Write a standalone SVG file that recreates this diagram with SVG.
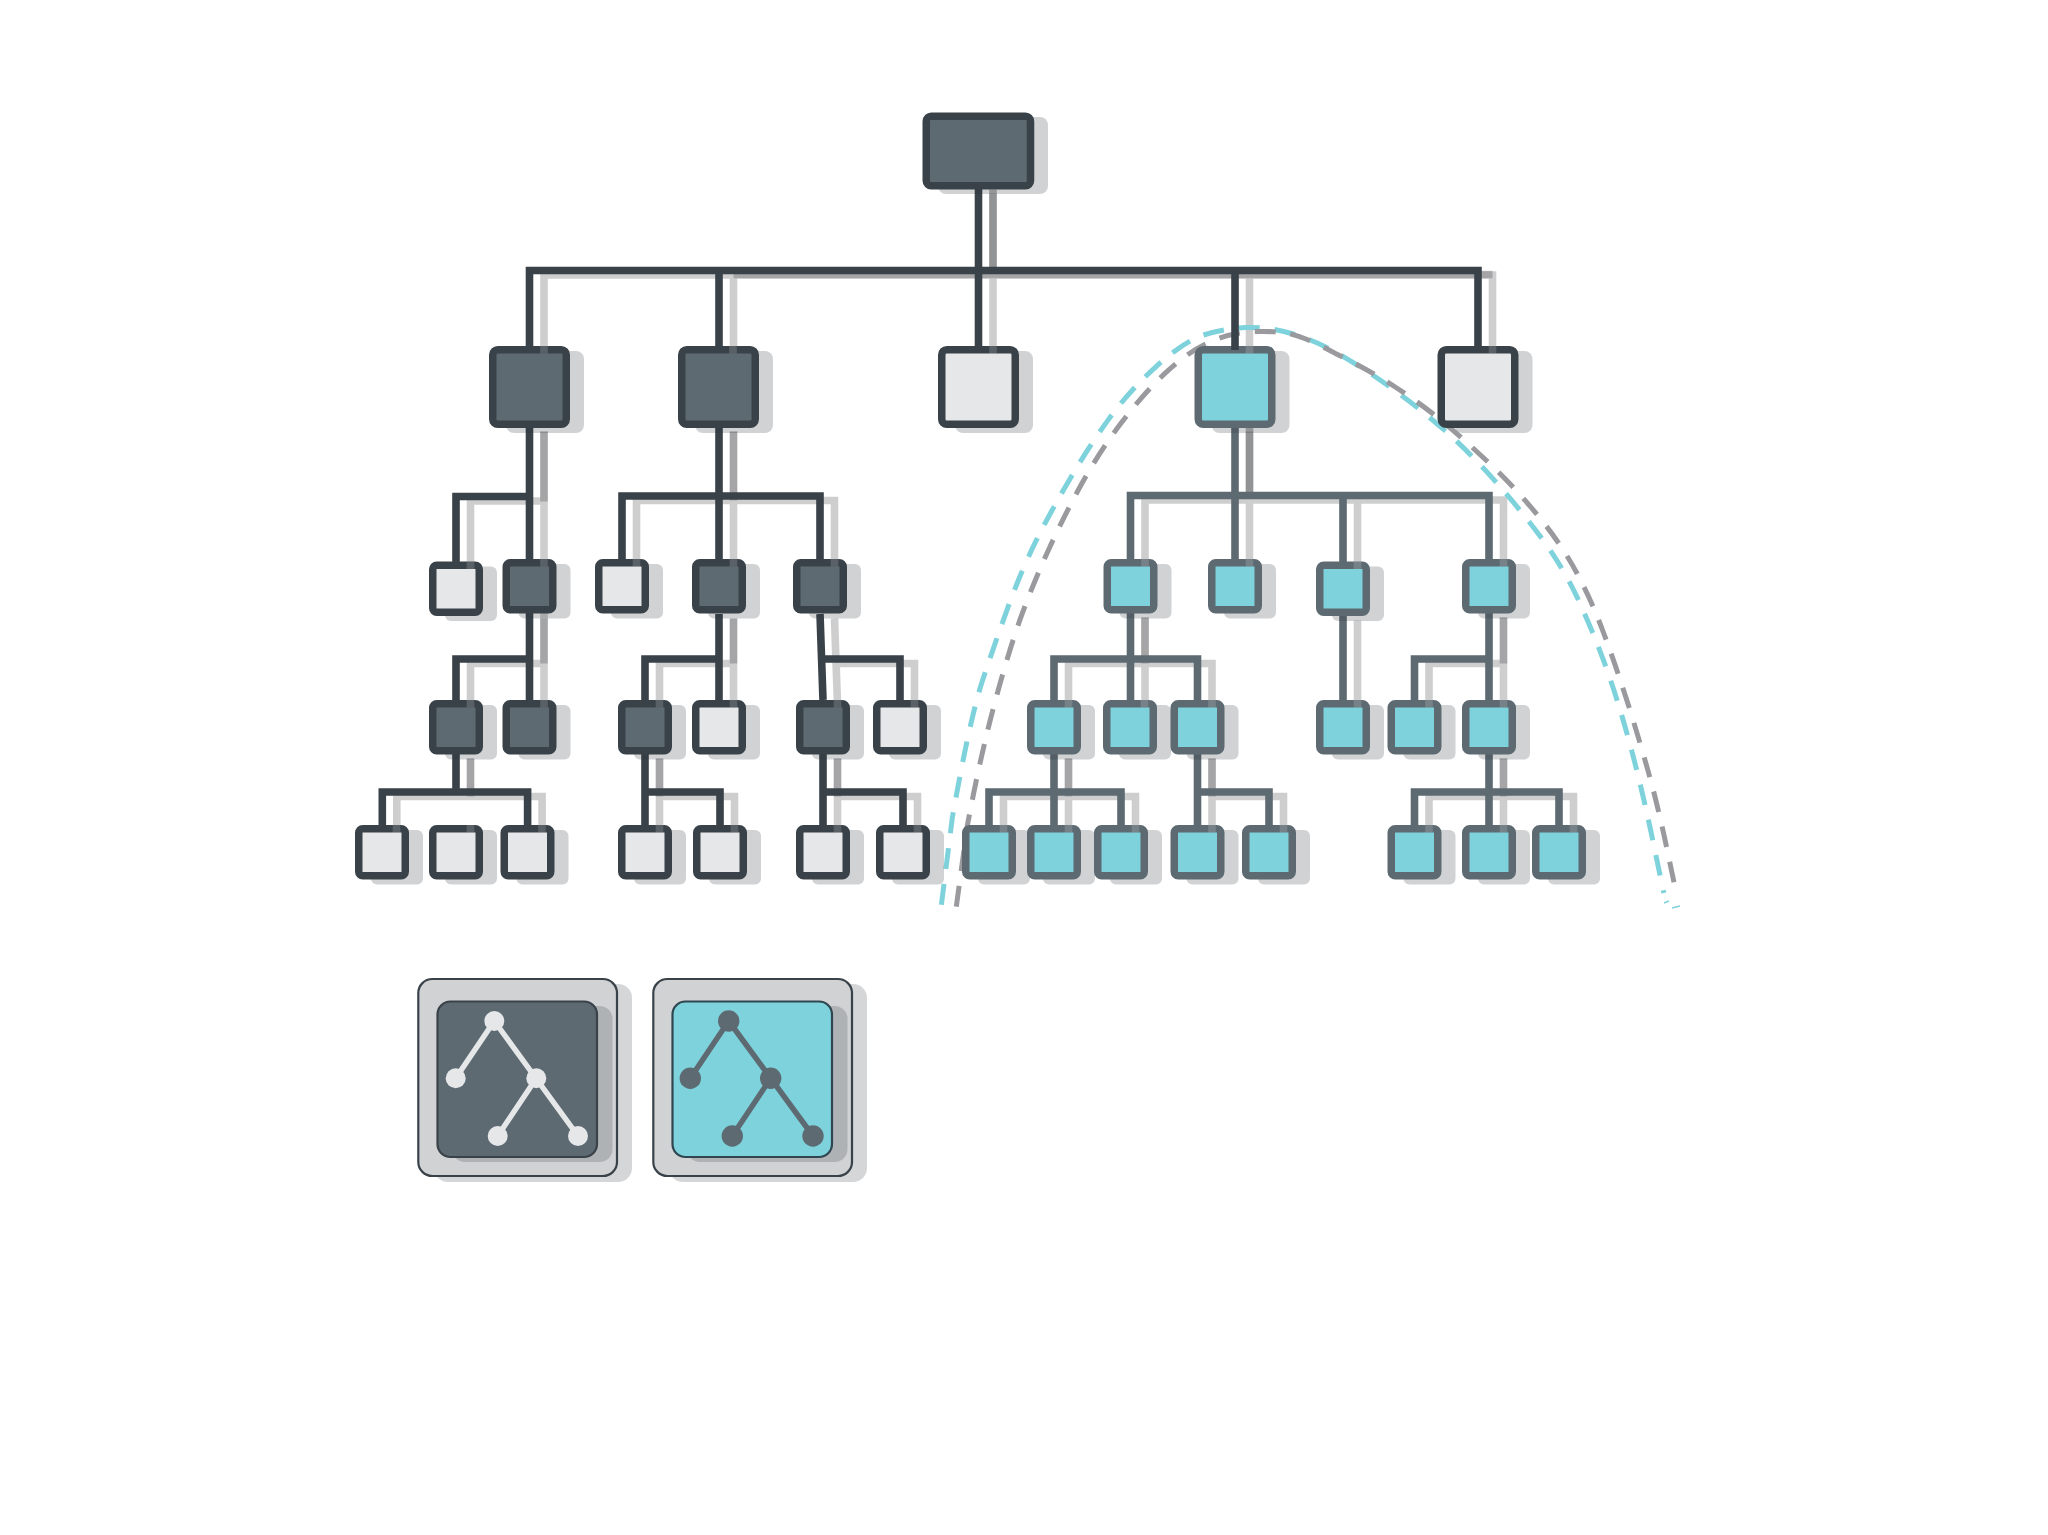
<svg xmlns="http://www.w3.org/2000/svg" xmlns:xlink="http://www.w3.org/1999/xlink" width="2048" height="1535" viewBox="0 0 2048 1535">
<style>
.dark{fill:#5e6a72;stroke:#3a4249}
.light{fill:#e5e7e9;stroke:#3a4249}
.teal{fill:#7dd2dc;stroke:#5e6a72}
.bd{stroke-width:7.5}
.sh{fill:#2a3238;fill-opacity:.22;stroke:none}
.tab{fill:#fff;fill-opacity:.16;stroke:none}
.e{fill:none;stroke-width:7.6;stroke-linejoin:miter}
.ed{stroke:#3a4249}
.et{stroke:#5e6a72}
.es{fill:none;stroke:#2a2c30;stroke-opacity:.23;stroke-width:7.6}
.tr{fill:none;stroke:#2a2c30;stroke-opacity:.25;stroke-width:7.6}
.tr2{fill:none;stroke:#2a2c30;stroke-opacity:.36;stroke-width:7.6}
.dash{fill:none;stroke-width:5;stroke-dasharray:21 15}
.frame{fill:#d0d2d4;stroke:#3a4249;stroke-width:2.2}
.fsh{fill:#2a3238;fill-opacity:.2;stroke:none}
</style>
<defs>
<g id="small"><rect class="sh" x="16" y="5" width="52" height="54.5" rx="6"/><rect class="bd" x="3.75" y="3.75" width="46.5" height="47" rx="4"/><rect class="tab" x="23.2" y="0" width="7.6" height="7.5" transform="translate(14.5 0)"/></g>
<g id="big"><rect class="sh" x="17" y="5" width="78" height="82" rx="8"/><rect class="bd" x="3.75" y="3.75" width="73.5" height="74.5" rx="5"/><rect class="tab" x="36.7" y="0" width="7.6" height="7.5" transform="translate(14.5 0)"/></g>
<path id="edges-dark" d="M978.5 189V270.5M529.5 346V270.5H1478V346M719 270.5V346M978.5 270.5V346M1235 270.5V346M529.5 427V700M529.5 496.5H456V562M719 427V560M622 560V496H820V560M529.5 614V700M529.5 659H456V700M456 754V792M382.3 825V792H527.6V825M719 614V700M719 659H645V700M645 754V825M645 792H720V825M820 614L823 700M820 659H900V700M823 754V825M823 792H903V825"/>
<path id="edges-teal" d="M1235 427V560M1130.5 560V495.5H1489V560M1343 495.5V562M1130.5 613V700M1054 700V659H1197.5V700M1343 616V700M1489 613V700M1414.5 700V659H1489M1054 754V825M989 825V792H1121V825M1197.5 754V825M1197.5 792H1269V825M1489 754V825M1414.5 825V792H1559V825"/>
</defs>
<rect width="2048" height="1535" fill="#fff"/>
<g id="connector-shadows" transform="translate(14.5 4.5)">
<use href="#edges-dark" xlink:href="#edges-dark" class="es"/>
<use href="#edges-teal" xlink:href="#edges-teal" class="es"/>
<path class="tr2" d="M978.5 185V266M1235 423V491"/>
<path class="tr" d="M719 270H1478M529.5 427V497M719 427V496M1130.5 613V659M1489 613V659M529.5 614V659M719 614V659M456 754V792M645 754V792M823 754V792M1054 754V792M1197.5 754V792M1489 754V792"/>
</g>
<g id="dashed-curves">
<path class="dash" stroke="#7dd2dc" d="M941.4 904.7L952.3 817.8Q969.8 719 982.2 681.5Q994.6 643.9 1008.3 606.4Q1022 568.8 1036.9 539.2Q1051.8 509.5 1070.5 477.9Q1089.2 446.2 1109.1 418.6Q1129 391 1156.4 366.3Q1183.7 341.5 1203.6 335Q1223.5 328.5 1245.9 327.5Q1268.3 326.5 1293.2 334Q1318 341.5 1342.9 356.3Q1367.8 371 1392.7 388.9Q1417.5 406.7 1442.4 428.4Q1467.3 450 1492.2 477.8Q1517 505.5 1539.4 535.2Q1561.8 564.8 1576.7 596.4Q1591.6 628 1604 661.7Q1616.5 695.3 1629 740.7Q1641.4 786 1652.6 839.5L1663.8 893"/>
<path class="dash" stroke="#9a9a9e" d="M956.3 906.7L967.3 825.7Q980.7 754.5 995.2 701.2Q1009.6 647.8 1022 614.2Q1034.4 580.6 1049.4 548Q1064.3 515.4 1081.7 483.8Q1099.1 452.2 1121.5 422.6Q1143.9 392.9 1166.3 372.2Q1188.7 351.4 1208.6 342.5Q1228.5 333.6 1248.4 332Q1268.3 330.4 1285.7 333Q1303 335.5 1335.4 353.4Q1367.8 369.2 1395.2 387Q1422.5 404.7 1444.9 423.5Q1467.3 442.3 1492.2 466Q1517 489.7 1539.4 517.4Q1561.8 545 1576.7 572.7Q1591.6 600.4 1604 634Q1616.5 667.6 1629 707.1Q1641.4 746.6 1650.1 778.3Q1658.8 809.9 1667.5 851.4L1676.2 892.9"/>
<path d="M1664 903L1669 901M1672 908L1680 906" stroke="#7dd2dc" stroke-width="1.5" fill="none"/>
</g>
<g id="connectors">
<use href="#edges-dark" xlink:href="#edges-dark" class="e ed"/>
<use href="#edges-teal" xlink:href="#edges-teal" class="e et"/>
</g>
<g id="root"><rect class="sh" x="938" y="117" width="110" height="77" rx="8"/><rect class="dark bd" x="926.25" y="116.25" width="104.25" height="69.5" rx="5"/></g>
<g id="a1" class="dark" transform="translate(489 346)"><use href="#big" xlink:href="#big"/></g>
<g id="a2" class="dark" transform="translate(678 346)"><use href="#big" xlink:href="#big"/></g>
<g id="a3" class="light" transform="translate(938 346)"><use href="#big" xlink:href="#big"/></g>
<g id="a4" class="teal" transform="translate(1194.5 346)"><use href="#big" xlink:href="#big"/><path d="M40.5 0V4" stroke="#3a4249" stroke-width="7.6" fill="none"/></g>
<g id="a5" class="light" transform="translate(1437.5 346)"><use href="#big" xlink:href="#big"/></g>
<g id="b1" class="light" transform="translate(429 561.5)"><use href="#small" xlink:href="#small"/></g>
<g id="b2" class="dark" transform="translate(502.5 559)"><use href="#small" xlink:href="#small"/></g>
<g id="b3" class="light" transform="translate(595 559)"><use href="#small" xlink:href="#small"/></g>
<g id="b4" class="dark" transform="translate(692 559)"><use href="#small" xlink:href="#small"/></g>
<g id="b5" class="dark" transform="translate(793 559)"><use href="#small" xlink:href="#small"/></g>
<g id="b6" class="teal" transform="translate(1103.5 559)"><use href="#small" xlink:href="#small"/></g>
<g id="b7" class="teal" transform="translate(1208 559)"><use href="#small" xlink:href="#small"/></g>
<g id="b8" class="teal" transform="translate(1316 561.5)"><use href="#small" xlink:href="#small"/></g>
<g id="b9" class="teal" transform="translate(1462 559)"><use href="#small" xlink:href="#small"/></g>
<g id="c1" class="dark" transform="translate(429 700)"><use href="#small" xlink:href="#small"/></g>
<g id="c2" class="dark" transform="translate(502.5 700)"><use href="#small" xlink:href="#small"/></g>
<g id="c3" class="dark" transform="translate(618 700)"><use href="#small" xlink:href="#small"/></g>
<g id="c4" class="light" transform="translate(692 700)"><use href="#small" xlink:href="#small"/></g>
<g id="c5" class="dark" transform="translate(796 700)"><use href="#small" xlink:href="#small"/></g>
<g id="c6" class="light" transform="translate(873 700)"><use href="#small" xlink:href="#small"/></g>
<g id="c7" class="teal" transform="translate(1027 700)"><use href="#small" xlink:href="#small"/></g>
<g id="c8" class="teal" transform="translate(1103 700)"><use href="#small" xlink:href="#small"/></g>
<g id="c9" class="teal" transform="translate(1170.5 700)"><use href="#small" xlink:href="#small"/></g>
<g id="c10" class="teal" transform="translate(1316 700)"><use href="#small" xlink:href="#small"/></g>
<g id="c11" class="teal" transform="translate(1387.5 700)"><use href="#small" xlink:href="#small"/></g>
<g id="c12" class="teal" transform="translate(1462 700)"><use href="#small" xlink:href="#small"/></g>
<g id="d1" class="light" transform="translate(355 825)"><use href="#small" xlink:href="#small"/></g>
<g id="d2" class="light" transform="translate(429 825)"><use href="#small" xlink:href="#small"/></g>
<g id="d3" class="light" transform="translate(500.5 825)"><use href="#small" xlink:href="#small"/></g>
<g id="d4" class="light" transform="translate(618 825)"><use href="#small" xlink:href="#small"/></g>
<g id="d5" class="light" transform="translate(693 825)"><use href="#small" xlink:href="#small"/></g>
<g id="d6" class="light" transform="translate(796 825)"><use href="#small" xlink:href="#small"/></g>
<g id="d7" class="light" transform="translate(876 825)"><use href="#small" xlink:href="#small"/></g>
<g id="d8" class="teal" transform="translate(962 825)"><use href="#small" xlink:href="#small"/></g>
<g id="d9" class="teal" transform="translate(1027 825)"><use href="#small" xlink:href="#small"/></g>
<g id="d10" class="teal" transform="translate(1094 825)"><use href="#small" xlink:href="#small"/></g>
<g id="d11" class="teal" transform="translate(1170.5 825)"><use href="#small" xlink:href="#small"/></g>
<g id="d12" class="teal" transform="translate(1242 825)"><use href="#small" xlink:href="#small"/></g>
<g id="d13" class="teal" transform="translate(1387.5 825)"><use href="#small" xlink:href="#small"/></g>
<g id="d14" class="teal" transform="translate(1462 825)"><use href="#small" xlink:href="#small"/></g>
<g id="d15" class="teal" transform="translate(1532 825)"><use href="#small" xlink:href="#small"/></g>
<g id="legend-dark">
<rect class="fsh" x="434" y="984" width="198" height="198" rx="14"/>
<rect class="frame" x="418.3" y="979" width="198.7" height="197" rx="14"/>
<rect class="fsh" x="452" y="1006" width="160.5" height="156" rx="13"/>
<rect x="437.5" y="1001.5" width="159.5" height="155.5" rx="13" fill="#5e6a72" stroke="#3a4249" stroke-width="2.2"/>
<path d="M494.3 1021L455.7 1078.3M494.3 1021L578 1136M536.3 1078.3L497.7 1136" fill="none" stroke="#e5e7e9" stroke-width="5.5"/>
<g fill="#e5e7e9"><circle cx="494.3" cy="1021" r="10"/><circle cx="455.7" cy="1078.3" r="10"/><circle cx="536.3" cy="1078.3" r="10"/><circle cx="497.7" cy="1136" r="10"/><circle cx="578" cy="1136" r="10"/></g>
</g>
<g id="legend-teal">
<rect class="fsh" x="669" y="984" width="198" height="198" rx="14"/>
<rect class="frame" x="653.3" y="979" width="198.7" height="197" rx="14"/>
<rect class="fsh" x="687" y="1006" width="160.5" height="156" rx="13"/>
<rect x="672.5" y="1001.5" width="159.5" height="155.5" rx="13" fill="#7dd2dc" stroke="#2f4650" stroke-width="2.2"/>
<path d="M728.7 1021L690.3 1078.3M728.7 1021L813 1136M770.7 1078.3L732.3 1136" fill="none" stroke="#5e6a72" stroke-width="5.5"/>
<g fill="#5e6a72"><circle cx="728.7" cy="1021" r="10.7"/><circle cx="690.3" cy="1078.3" r="10.7"/><circle cx="770.7" cy="1078.3" r="10.7"/><circle cx="732.3" cy="1136" r="10.7"/><circle cx="813" cy="1136" r="10.7"/></g>
</g>
</svg>
